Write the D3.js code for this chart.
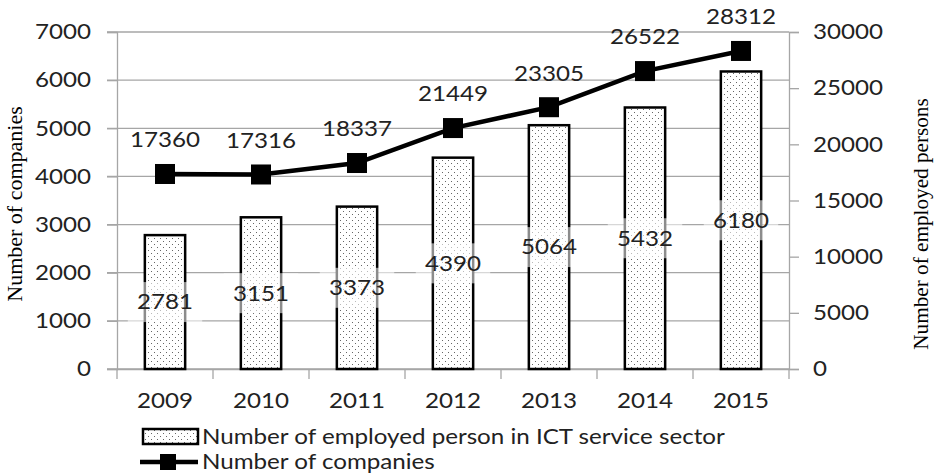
<!DOCTYPE html>
<html><head><meta charset="utf-8">
<script src="https://cdn.jsdelivr.net/npm/d3@7"></script>
<style>
html,body{margin:0;padding:0;background:#fff;}
svg{display:block;}
</style>
</head><body>
<svg id="chart" width="936" height="474"></svg>
<script>
const years = ["2009","2010","2011","2012","2013","2014","2015"];
const companies = [2781, 3151, 3373, 4390, 5064, 5432, 6180];
const employed = [17360, 17316, 18337, 21449, 23305, 26522, 28312];
const leftTicks = [0,1000,2000,3000,4000,5000,6000,7000];
const rightTicks = [0,5000,10000,15000,20000,25000,30000];
const legendLabels = ["Number of employed person in ICT service sector", "Number of companies"];
const leftTitle = "Number of companies";
const rightTitle = "Number of employed persons";

const svg = d3.select("#chart");
const L = 117, R = 789, T = 32, B = 369;
const sans = "Lato, 'Open Sans', sans-serif";
const serif = "'Liberation Serif', 'DejaVu Serif', serif";
const fs = 21;
const stretch = 1.15;
const gridCol = "#a6a6a6";
const txtCol = "#222";

function widen(sel, k){
  sel.each(function(){
    const w = this.getComputedTextLength();
    d3.select(this).attr("textLength", w*k).attr("lengthAdjust","spacingAndGlyphs");
  });
}

const defs = svg.append("defs");
const pat = defs.append("pattern").attr("id","dots").attr("patternUnits","userSpaceOnUse")
  .attr("width",6).attr("height",6);
pat.append("rect").attr("width",6).attr("height",6).attr("fill","#fff");
pat.append("rect").attr("x",1).attr("y",1).attr("width",1).attr("height",1).attr("fill","#666");
pat.append("rect").attr("x",4).attr("y",4).attr("width",1).attr("height",1).attr("fill","#666");

const x = d3.scaleBand().domain(years).range([L,R]).paddingInner(0).paddingOuter(0);
const yL = d3.scaleLinear().domain([0,7000]).range([B,T]);
const yR = d3.scaleLinear().domain([0,30000]).range([B,T]);

// gridlines
svg.append("g").selectAll("line").data(leftTicks).join("line")
  .attr("x1",L-10).attr("x2",R).attr("y1",d=>yL(d)).attr("y2",d=>yL(d))
  .attr("stroke",gridCol).attr("stroke-width",1.3);

// axes
const gL = svg.append("g").attr("transform",`translate(${L},0)`)
  .call(d3.axisLeft(yL).tickValues(leftTicks).tickSize(10).tickPadding(16).tickFormat(d3.format("d")));
const gR = svg.append("g").attr("transform",`translate(${R},0)`)
  .call(d3.axisRight(yR).tickValues(rightTicks).tickSize(10).tickPadding(14).tickFormat(d3.format("d")));
const gB = svg.append("g").attr("transform",`translate(0,${B})`)
  .call(d3.axisBottom(x).tickSize(0).tickPadding(24));
svg.append("g").selectAll("line").data(years.concat(["end"])).join("line")
  .attr("x1",(d,i)=>L + i*x.step()).attr("x2",(d,i)=>L + i*x.step())
  .attr("y1",B).attr("y2",B+10).attr("stroke",gridCol).attr("stroke-width",1.3);

[gL,gR,gB].forEach(g=>{
  g.select(".domain").attr("stroke",gridCol).attr("stroke-width",1.3);
  g.selectAll(".tick line").attr("stroke",gridCol).attr("stroke-width",1.3);
  g.selectAll("text").attr("font-family",sans).attr("font-size",fs).attr("fill",txtCol);
  widen(g.selectAll("text"), stretch);
});
gB.select(".domain").attr("d",`M${L},0.5H${R}`);

// bars
const bw = x.bandwidth()*0.42;
svg.append("g").selectAll("rect").data(companies).join("rect")
  .attr("x",(d,i)=>x(years[i]) + x.bandwidth()/2 - bw/2)
  .attr("y",d=>yL(d)).attr("width",bw).attr("height",d=>B - yL(d))
  .attr("fill","url(#dots)").attr("stroke","#000").attr("stroke-width",2.5);

// bar labels with translucent boxes
const bl = svg.append("g");
companies.forEach((d,i)=>{
  const cx = x(years[i]) + x.bandwidth()/2;
  const cy = (yL(d) + B)/2;
  const t = bl.append("text").attr("x",cx).attr("y",cy).attr("dy","0.35em")
    .attr("text-anchor","middle").attr("font-family",sans).attr("font-size",fs).attr("fill",txtCol).text(d);
  widen(t, stretch);
  const w = t.node().getComputedTextLength()*stretch;
  bl.insert("rect","text").attr("x",cx - w/2 - 5).attr("y",cy-20).attr("width",w+10).attr("height",40)
    .attr("fill","#fff").attr("opacity",0.55);
});

// line
const cxs = years.map(y=>x(y)+x.bandwidth()/2);
svg.append("path").datum(employed)
  .attr("d",d3.line().x((d,i)=>cxs[i]).y(d=>yR(d)))
  .attr("fill","none").attr("stroke","#000").attr("stroke-width",4.5);
svg.append("g").selectAll("rect").data(employed).join("rect")
  .attr("x",(d,i)=>cxs[i]-10).attr("y",d=>yR(d)-10).attr("width",20).attr("height",20).attr("fill","#000");
const lt = svg.append("g").selectAll("text").data(employed).join("text")
  .attr("x",(d,i)=>cxs[i]).attr("y",d=>yR(d)-34).attr("dy","0.35em")
  .attr("text-anchor","middle").attr("font-family",sans).attr("font-size",fs).attr("fill",txtCol).text(d=>d);
widen(lt, stretch);

// axis titles
const t1 = svg.append("text").attr("transform","translate(22,204) rotate(-90)")
  .attr("text-anchor","middle").attr("font-family",serif).attr("font-size",20).attr("fill","#000").text(leftTitle);
widen(t1, 1.1);
const t2 = svg.append("text").attr("transform","translate(928,224) rotate(-90)")
  .attr("text-anchor","middle").attr("font-family",serif).attr("font-size",20).attr("fill","#000").text(rightTitle);
widen(t2, 1.06);

// legend
const lg = svg.append("g");
lg.append("rect").attr("x",143).attr("y",429).attr("width",55).attr("height",15)
  .attr("fill","url(#dots)").attr("stroke","#000").attr("stroke-width",2.5);
const l1 = lg.append("text").attr("x",202).attr("y",437).attr("dy","0.35em").attr("font-family",sans).attr("font-size",fs).attr("fill",txtCol).text(legendLabels[0]);
lg.append("line").attr("x1",140).attr("x2",198).attr("y1",462).attr("y2",462).attr("stroke","#000").attr("stroke-width",4.5);
lg.append("rect").attr("x",160).attr("y",454).attr("width",16).attr("height",16).attr("fill","#000");
const l2 = lg.append("text").attr("x",202).attr("y",462).attr("dy","0.35em").attr("font-family",sans).attr("font-size",fs).attr("fill",txtCol).text(legendLabels[1]);
widen(l1, stretch); widen(l2, stretch);
</script>
</body></html>
